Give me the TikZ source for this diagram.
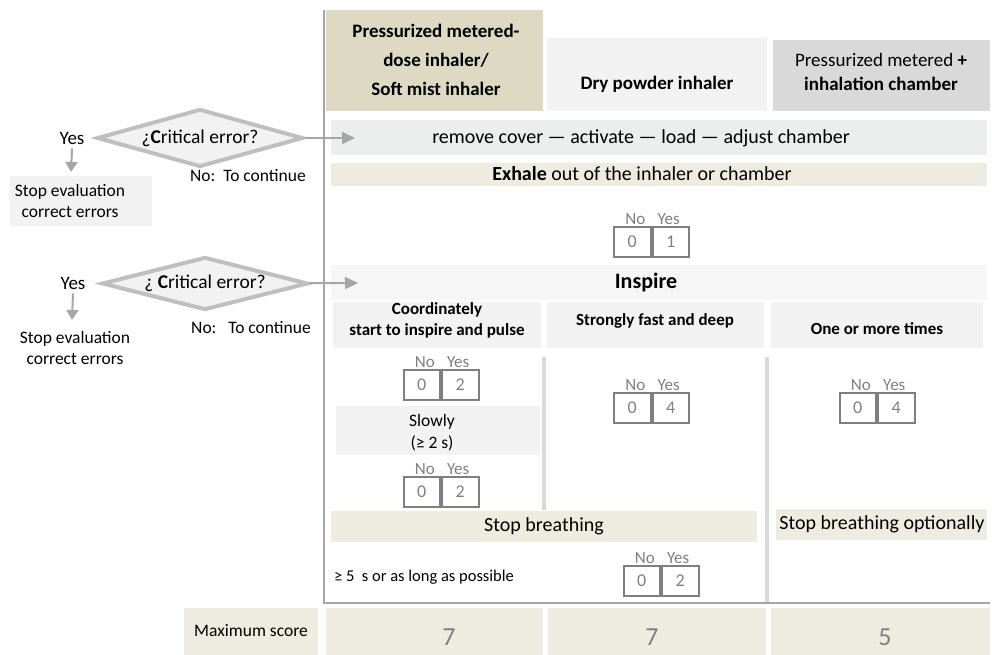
\documentclass[tikz,border=0pt]{standalone}
\usepackage{fontspec}
\setmainfont{Carlito}
\usetikzlibrary{shapes.geometric,arrows.meta}

\begin{document}
\begin{tikzpicture}[x=1pt, y=-1pt,
    txt/.style={inner sep=0pt, align=center, font=\fontsize{17.5}{21}\selectfont},
    big/.style={inner sep=0pt, align=center, font=\fontsize{20}{24}\selectfont},
    sub/.style={inner sep=0pt, align=center, font=\fontsize{17}{21}\selectfont\bfseries},
    crit/.style={diamond, aspect=3.8, draw=rim-gray, line width=4pt, fill=light-gray,
      inner sep=0pt, minimum width=206pt, font=\fontsize{19.5}{23}\selectfont},
    arr/.style={draw=arrow-gray, line width=2pt, -{Triangle[length=13pt,width=12pt]}},
    yesarr/.style={draw=arrow-gray, line width=2pt, -{Triangle[length=10pt,width=12pt]}},
    cell/.style={draw=box-gray, line width=2pt, minimum width=36.5pt, minimum height=30pt,
      inner sep=0pt, text=box-gray, font=\fontsize{18}{20}\selectfont},
    yn/.style={inner sep=1.5pt, text=box-gray, font=\fontsize{17}{20}\selectfont},
    maxnum/.style={inner sep=0pt, text=box-gray, font=\fontsize{26}{28}\selectfont}]
    \definecolor{tan-dark}{HTML}{DDD9C3}
    \definecolor{tan-light}{HTML}{EEECE1}
    \definecolor{head-gray}{HTML}{D9D9D9}
    \definecolor{light-gray}{HTML}{F2F2F2}
    \definecolor{band-gray}{HTML}{ECEDED}
    \definecolor{pale-gray}{HTML}{F6F6F6}
    \definecolor{rim-gray}{HTML}{BFBFBF}
    \definecolor{arrow-gray}{HTML}{A6A6A6}
    \definecolor{box-gray}{HTML}{7F7F7F}
    % score box: name, x, y, points for yes
    \def\score#1#2#3#4{
      \node[cell, anchor=east] (#1-no) at (#2,#3) {0};
      \node[cell, anchor=west] (#1-yes) at (#2,#3) {#4};
      \node[yn, above, xshift=3pt] at (#1-no.north) {No};
      \node[yn, above, xshift=-2pt] at (#1-yes.north) {Yes};
    }
    \useasboundingbox (0,0) rectangle (992,655);

    % headers
    \fill[tan-dark] (326,10) rectangle (543,111);
    \fill[light-gray] (547,38) rectangle (767,111);
    \fill[head-gray] (773,40) rectangle (990,111);
    \node[big, font=\fontsize{19}{29}\selectfont\bfseries] (pmdi) at (436,60)
      {Pressurized metered-\\dose inhaler/\\Soft mist inhaler};
    \node[big, font=\fontsize{19}{24}\selectfont\bfseries] (dpi) at (657,84) {Dry powder inhaler};
    \node[big, font=\fontsize{19}{24}\selectfont] (pmic) at (881,72)
      {Pressurized metered {\bfseries +}\\{\bfseries inhalation chamber}};

    % steps
    \fill[band-gray] (331,120) rectangle (987,155);
    \node[big] (remove) at (641,138) {remove cover --- activate --- load --- adjust chamber};
    \coordinate (in1) at (355,138);
    \fill[tan-light] (331,163) rectangle (987,186);
    \node[big] (exhale) at (642,174) {{\bfseries Exhale} out of the inhaler or chamber};
    \score{s1}{651.5}{242}{1}

    \fill[pale-gray] (331,265) rectangle (987,300);
    \node[big, font=\fontsize{22}{24}\selectfont\bfseries] (inspire) at (646,283) {Inspire};
    \coordinate (in2) at (358,283);
    \fill[light-gray] (333,302) rectangle (541,348);
    \fill[light-gray] (547,302) rectangle (764,348);
    \fill[light-gray] (771,302) rectangle (983,348);
    \node[sub] (coord) at (437,320) {Coordinately\\start to inspire and pulse};
    \node[sub] (strong) at (655,321) {Strongly fast and deep};
    \node[sub] (times) at (877,329) {One or more times};

    \score{s2}{441}{385}{2}
    \fill[light-gray] (336,406) rectangle (540,455);
    \node[txt, font=\fontsize{17.5}{22}\selectfont] (slow) at (432,433) {Slowly\\(≥ 2 s)};
    \score{s3}{441}{492}{2}
    \score{s4}{651.5}{408}{4}
    \score{s5}{877}{408}{4}

    \fill[tan-light] (331,511) rectangle (757,542);
    \node[big] (hold) at (544,526) {Stop breathing};
    \fill[tan-light] (776,509) rectangle (987,540);
    \node[big] (holdopt) at (882,524) {Stop breathing optionally};
    \node[txt, font=\fontsize{16.5}{20}\selectfont, anchor=west] (long) at (334,577)
      {≥ 5\ \ s or as long as possible};
    \score{s6}{661}{581}{2}

    % frame and column lines
    \draw[head-gray, line width=4pt] (544,357) -- (544,510);
    \draw[head-gray, line width=4pt] (767,357) -- (767,603);
    \draw[arrow-gray, line width=2pt] (324,10) -- (324,603) -- (990,603);

    % maximum score
    \fill[tan-light] (184,608) rectangle (318,655);
    \fill[tan-light] (326,608) rectangle (543,655);
    \fill[tan-light] (548,608) rectangle (766,655);
    \fill[tan-light] (771,608) rectangle (990,655);
    \node[txt] (maxlabel) at (251,631) {Maximum score};
    \node[maxnum] (max1) at (449,637) {7};
    \node[maxnum] (max2) at (652,637) {7};
    \node[maxnum] (max3) at (885,637) {5};

    % critical error checks
    \node[crit, minimum height=58pt] (crit1) at (200,138) {¿{\bfseries C}ritical error?};
    \node[txt, font=\fontsize{19}{23}\selectfont] (yes1) at (72,138) {Yes};
    \fill[light-gray] (10,176) rectangle (152,226);
    \node[txt] (stop1) at (70,201) {Stop evaluation\\correct errors};
    \node[txt] (go1) at (248,176) {No:\ \ To continue};
    \draw[yesarr] (yes1.south) ++(0,4) -- (71,172);
    \draw[arr] (crit1) -- (in1);

    \node[crit, minimum height=53pt] (crit2) at (205,283.5) {¿ {\bfseries C}ritical error?};
    \node[txt, font=\fontsize{19}{23}\selectfont] (yes2) at (73,283) {Yes};
    \node[txt] (stop2) at (75,347.5) {Stop evaluation\\correct errors};
    \node[txt] (go2) at (251,328) {No:\ \ \ To continue};
    \draw[yesarr] (yes2.south) ++(0,4) -- (72,320);
    \draw[arr] (crit2) -- (in2);
\end{tikzpicture}
\end{document}
